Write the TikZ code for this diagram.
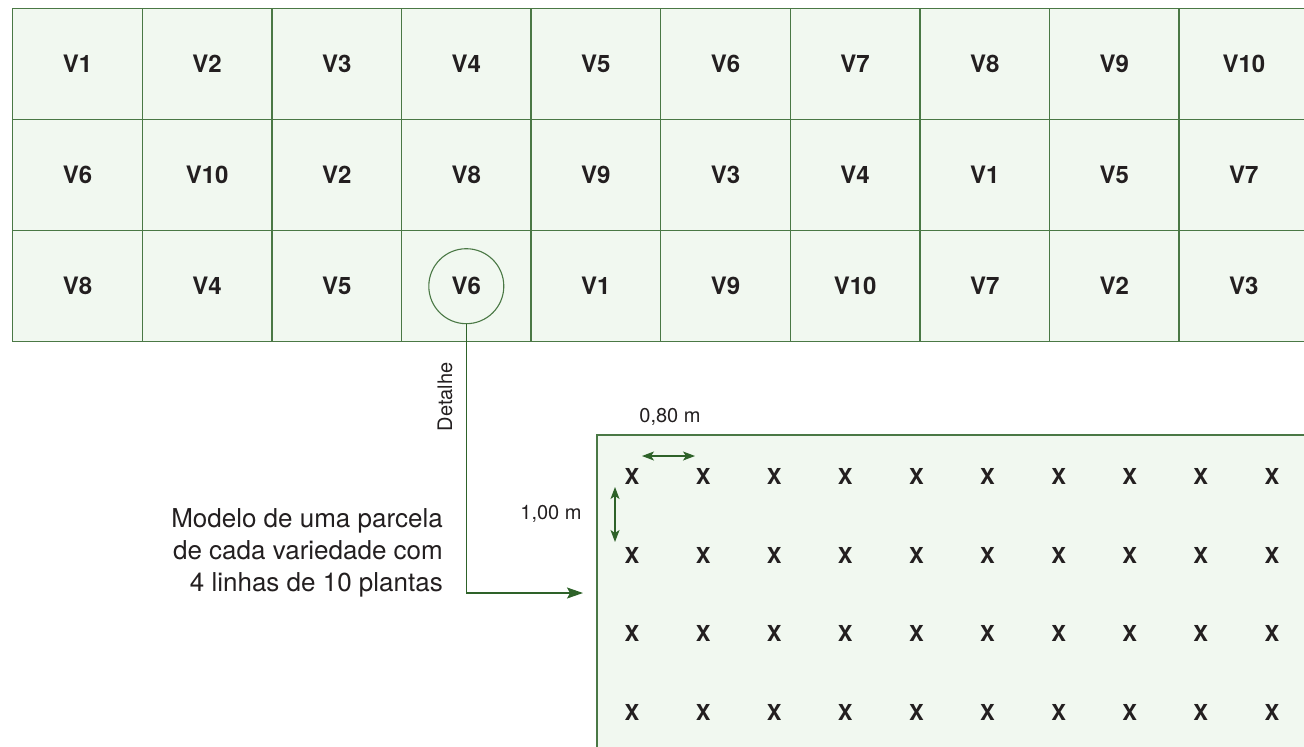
\documentclass[tikz,border=0pt]{standalone}
\usepackage{fontspec}
\setmainfont{TeX Gyre Heros}
\usetikzlibrary{arrows.meta,calc}
\definecolor{plotfill}{HTML}{F1F8F0}
\definecolor{plotline}{HTML}{4A7845}
\definecolor{arrowgreen}{HTML}{2E6229}
\definecolor{textdark}{HTML}{231F20}
\tikzset{
  cell/.style={draw=plotline, line width=1.4pt, fill=plotfill, minimum width=129.6pt,
    minimum height=111pt, inner sep=0pt, anchor=north west,
    font=\fontsize{24}{28}\selectfont\bfseries, text=textdark},
  plant/.style={font=\fontsize{22}{26}\selectfont\bfseries, text=textdark, inner sep=0pt},
  measure/.style={font=\fontsize{20}{24}\selectfont, text=textdark, inner sep=0pt},
  dimarrow/.style={arrowgreen, line width=1.1pt,
    {Stealth[length=12pt,width=9pt,inset=3pt]}-{Stealth[length=12pt,width=9pt,inset=3pt]}},
  leader/.style={arrowgreen, line width=1.3pt, -{Stealth[length=16pt,width=11pt,inset=3pt]}},
}
\begin{document}
\begin{tikzpicture}[x=1pt,y=-1pt]
\useasboundingbox (0,0) rectangle (1304,747);
\clip (0,0) rectangle (1304,747);

% field layout: three blocks of ten varieties
\foreach \row [count=\r from 0] in {
  {V1,V2,V3,V4,V5,V6,V7,V8,V9,V10},
  {V6,V10,V2,V8,V9,V3,V4,V1,V5,V7},
  {V8,V4,V5,V6,V1,V9,V10,V7,V2,V3}}{
  \foreach \v [count=\c from 0] in \row {
    \node[cell] (cell-\r-\c) at ({12+129.6*\c},{8+111*\r}) {\v};
  }
}

% highlighted plot
\node[circle, draw=plotline, line width=1.1pt, minimum size=75pt, inner sep=0pt]
  (zoomcirc) at (cell-2-3.center) {};

% detail of one plot
\node[fill=plotfill, minimum width=720pt, minimum height=320pt, inner sep=0pt,
  anchor=north west] (plot) at (597,435) {};
\draw[plotline, line width=1.4pt] (plot.south west) -- (plot.north west) -- (plot.north east);

\foreach \yy [count=\j from 1] in {476,555,633,712}{
  \foreach \i in {0,...,9}{
    \node[plant] (x-\j-\i) at ({632+71.1*\i},\yy) {X};
  }
}

% spacing dimensions
\coordinate (hA) at (642,456);
\coordinate (hB) at (695,456);
\coordinate (vA) at (615,487);
\coordinate (vB) at (615,542);
\draw[dimarrow] (hA) -- (hB);
\draw[dimarrow] (vA) -- (vB);
\node[measure] (lblrow) at (670,417) {0,80 m};
\node[measure] (lblcol) at (551,514) {1,00 m};

% leader from the highlighted plot to the detail
\coordinate (tip) at (583,593);
\draw[leader] (zoomcirc.south) |- (tip);
\node[measure, rotate=90] (detalhe) at (445,397) {Detalhe};

\node[align=right, anchor=east, text=textdark, inner sep=0pt,
  font=\fontsize{26}{32}\selectfont] (caption) at (443,553)
  {Modelo de uma parcela\\de cada variedade com\\4 linhas de 10 plantas};
\end{tikzpicture}
\end{document}
